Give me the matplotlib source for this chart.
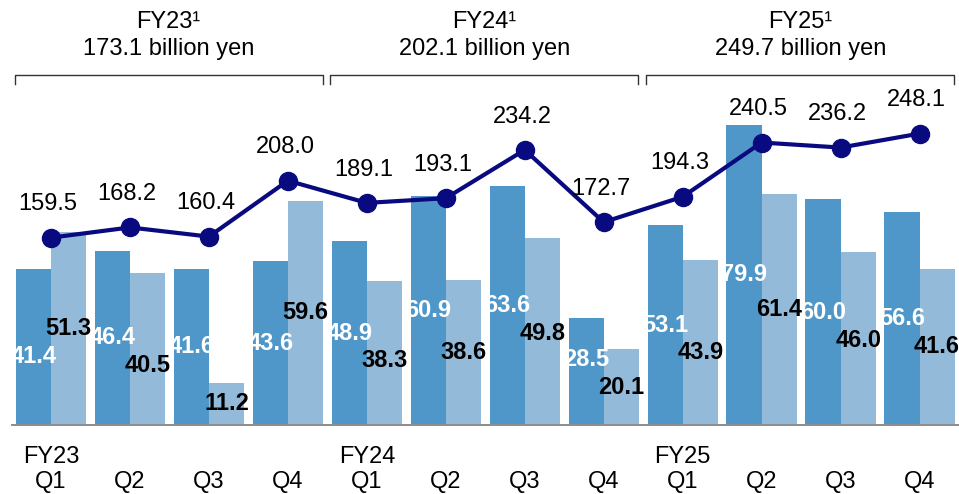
import numpy as np
import matplotlib.pyplot as plt

plt.rcParams['font.family'] = ['Liberation Sans', 'DejaVu Sans']

quarters = ['Q1', 'Q2', 'Q3', 'Q4'] * 3
years = ['FY23', 'FY24', 'FY25']
dark_vals = [41.4, 46.4, 41.6, 43.6, 48.9, 60.9, 63.6, 28.5, 53.1, 79.9, 60.0, 56.6]
light_vals = [51.3, 40.5, 11.2, 59.6, 38.3, 38.6, 49.8, 20.1, 43.9, 61.4, 46.0, 41.6]
totals = [159.5, 168.2, 160.4, 208.0, 189.1, 193.1, 234.2, 172.7, 194.3, 240.5, 236.2, 248.1]
year_totals = ['173.1', '202.1', '249.7']

dark = '#5097C9'
light = '#93BBD9'
navy = '#0A0A80'

fig = plt.figure(figsize=(9.59, 4.94), dpi=100)
ax = fig.add_axes([0.012, 0.1397, 0.988, 0.7085])
ax2 = ax.twinx()

x = np.arange(len(quarters))
w = 0.445
ax.bar(x - w / 2, dark_vals, w, color=dark)
ax.bar(x + w / 2, light_vals, w, color=light)

# labels in the middle of the bars, pulled apart when they'd collide
min_sep = 7.4
for xi, d, l in zip(x, dark_vals, light_vals):
    yd, yl = d / 2, l / 2
    gap = abs(yd - yl)
    if gap < min_sep:
        shift = min_sep - gap
        lower_is_dark = yd < yl
        lower_h = d if lower_is_dark else l
        if lower_h >= 25:
            if lower_is_dark:
                yd -= shift
            else:
                yl -= shift
        else:
            if lower_is_dark:
                yl += shift
            else:
                yd += shift
    ax.text(xi - w / 2, yd, f'{d:.1f}', ha='center', va='center',
            color='white', fontsize=17, fontweight='bold')
    ax.text(xi + w / 2, yl, f'{l:.1f}', ha='center', va='center',
            color='black', fontsize=17, fontweight='bold')

ax2.plot(x, totals, '-o', color=navy, lw=3, ms=13)
for xi, v in zip(x, totals):
    ax2.annotate(f'{v:.1f}', (xi, v), xytext=(-2, 24), textcoords='offset points',
                 ha='center', va='center', fontsize=17)

ax.set_xlim(-0.5, 11.5)
ax.set_ylim(0, 93.1)
ax2.set_ylim(0, 298)

labels = []
for i, q in enumerate(quarters):
    if q == 'Q1':
        labels.append(years[i // 4] + '\n' + q)
    else:
        labels.append(' \n' + q)
ax.set_xticks(x)
ax.set_xticklabels(labels, fontsize=17, linespacing=1.2)
ax.tick_params(axis='x', length=0, pad=15)
ax.set_yticks([])
ax2.set_yticks([])

for a in (ax, ax2):
    for s in ['top', 'right', 'left']:
        a.spines[s].set_visible(False)
    a.spines['bottom'].set_color('#8C8C8C')
    a.spines['bottom'].set_linewidth(1.2)

# brackets and yearly totals
for i, yr in enumerate(years):
    x0 = i * 4 - 0.46
    x1 = i * 4 + 3.44
    ax.plot([x0, x0, x1, x1], [90.8, 93.1, 93.1, 90.8], color='#333333',
            lw=1.0, clip_on=False)
    xc = (x0 + x1) / 2
    ax.text(xc, 93.1 + 14.2, yr + '\u00b9', ha='center', va='center', fontsize=17)
    ax.text(xc, 93.1 + 6.9, year_totals[i] + ' billion yen', ha='center',
            va='center', fontsize=17)

fig.savefig('out.png', dpi=100)
